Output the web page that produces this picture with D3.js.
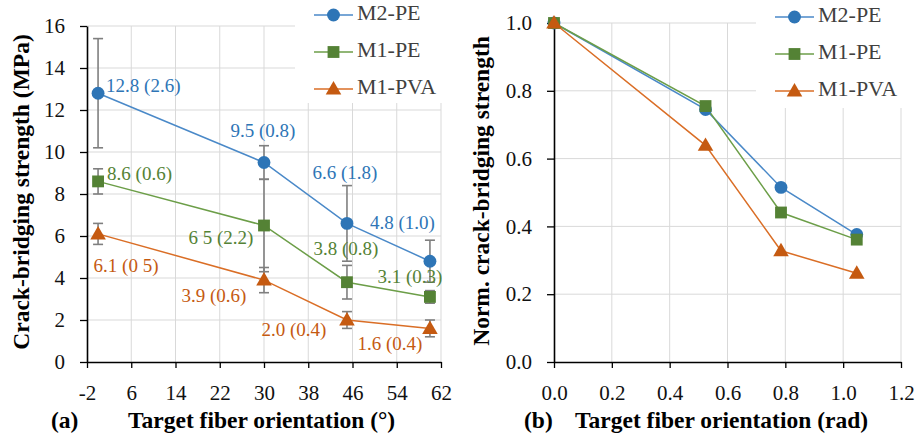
<!DOCTYPE html>
<html>
<head>
<meta charset="utf-8">
<script src="https://cdn.jsdelivr.net/npm/d3@7"></script>
<style>
  html, body { margin: 0; padding: 0; background: #fff; }
  svg { display: block; }
  svg text { font-family: "Liberation Serif", Tinos, "Times New Roman", serif; }
</style>
</head>
<body>
<svg id="chart" width="915" height="442"></svg>
<script>
// Fiber orientation targets
const anglesDeg = [0, 30, 45, 60];
const anglesRad = [0, 0.524, 0.785, 1.047];

// Series names
const seriesNames = ["M2-PE", "M1-PE", "M1-PVA"];

// Crack-bridging strength (MPa) and standard deviation
const m2peMean = [12.8, 9.5, 6.6, 4.8];
const m2peSd = [2.6, 0.8, 1.8, 1.0];
const m1peMean = [8.6, 6.5, 3.8, 3.1];
const m1peSd = [0.6, 2.2, 0.8, 0.3];
const m1pvaMean = [6.1, 3.9, 2.0, 1.6];
const m1pvaSd = [0.5, 0.6, 0.4, 0.4];

// Value labels printed next to each point
const m2peLabels = ["12.8 (2.6)", "9.5 (0.8)", "6.6 (1.8)", "4.8 (1.0)"];
const m1peLabels = ["8.6 (0.6)", "6 5 (2.2)", "3.8 (0.8)", "3.1 (0.3)"];
const m1pvaLabels = ["6.1 (0 5)", "3.9 (0.6)", "2.0 (0.4)", "1.6 (0.4)"];

// Normalized crack-bridging strength
const m2peNorm = [1.0, 0.745, 0.515, 0.376];
const m1peNorm = [1.0, 0.755, 0.441, 0.361];
const m1pvaNorm = [1.0, 0.639, 0.328, 0.262];

// Axis ticks
const leftXTicks = [-2, 6, 14, 22, 30, 38, 46, 54, 62];
const leftYTicks = [0, 2, 4, 6, 8, 10, 12, 14, 16];
const rightXTicks = [0, 0.2, 0.4, 0.6, 0.8, 1.0, 1.2];
const rightYTicks = [0, 0.2, 0.4, 0.6, 0.8, 1.0];

const FONT = "'Liberation Serif', Tinos, 'Times New Roman', serif";
const markerColors = ["#2E75B6", "#548235", "#C55A11"];
const lineColors = ["#4A89C8", "#6C9E48", "#DA6E26"];
const markerShapes = [d3.symbolCircle, d3.symbolSquare, d3.symbolTriangle];
const markerSizes = [130, 140, 105];

// label placement: [dx, dy, anchor] relative to the point
const labelPlace = [
  [[8, -6, "start"], [-1, -30, "middle"], [-2, -49, "middle"], [-60, -37, "start"]],
  [[9, -6, "start"], [-43, 14, "middle"], [-1, -32, "middle"], [-20, -18, "middle"]],
  [[28, 34, "middle"], [-50, 18, "middle"], [-53, 12, "middle"], [-40, 17, "middle"]]
];

const svg = d3.select("#chart").attr("font-family", FONT);
const gridColor = "#d9d9d9";

function drawPanel(cfg) {
  const g = svg.append("g").attr("font-family", FONT);
  const x = d3.scaleLinear().domain(cfg.xDomain).range(cfg.xRange);
  const y = d3.scaleLinear().domain(cfg.yDomain).range(cfg.yRange);

  // gridlines
  g.append("g").selectAll("line").data(cfg.xTicks.slice(1)).join("line")
    .attr("x1", d => x(d)).attr("x2", d => x(d))
    .attr("y1", y.range()[0]).attr("y2", y.range()[1])
    .attr("stroke", gridColor).attr("stroke-width", 1);
  g.append("g").selectAll("line").data(cfg.yTicks.slice(1)).join("line")
    .attr("x1", x.range()[0]).attr("x2", x.range()[1])
    .attr("y1", d => y(d)).attr("y2", d => y(d))
    .attr("stroke", gridColor).attr("stroke-width", 1);

  // axes
  const xAxis = d3.axisBottom(x).tickValues(cfg.xTicks).tickFormat(cfg.xFormat)
    .tickSizeInner(6).tickSizeOuter(0).tickPadding(17);
  const yAxis = d3.axisLeft(y).tickValues(cfg.yTicks).tickFormat(cfg.yFormat)
    .tickSizeInner(7).tickSizeOuter(0).tickPadding(15);
  const gx = g.append("g").attr("transform", `translate(0,${y.range()[0]})`).call(xAxis);
  const gy = g.append("g").attr("transform", `translate(${x.range()[0]},0)`).call(yAxis);
  [gx, gy].forEach(a => {
    a.attr("font-family", FONT).attr("font-size", 21);
    a.select(".domain").attr("stroke", "#000").attr("stroke-width", 1.6);
    a.selectAll(".tick line").attr("stroke", "#000").attr("stroke-width", 1.3);
    a.selectAll(".tick text").attr("fill", "#111").attr("font-family", FONT);
  });

  // series lines
  cfg.series.forEach((vals, i) => {
    const line = d3.line().x((d, j) => x(cfg.xs[j])).y(d => y(d));
    g.append("path").datum(vals).attr("d", line)
      .attr("fill", "none").attr("stroke", lineColors[i]).attr("stroke-width", 1.5);
  });

  // error bars
  if (cfg.errors) {
    cfg.series.forEach((vals, i) => {
      const eg = g.append("g").attr("stroke", "#7f7f7f").attr("stroke-width", 1.6);
      vals.forEach((v, j) => {
        const e = cfg.errors[i][j];
        const cx = x(cfg.xs[j]);
        eg.append("line").attr("x1", cx).attr("x2", cx).attr("y1", y(v - e)).attr("y2", y(v + e));
        [v - e, v + e].forEach(t => {
          eg.append("line").attr("x1", cx - 5).attr("x2", cx + 5).attr("y1", y(t)).attr("y2", y(t));
        });
      });
    });
  }

  // markers
  cfg.series.forEach((vals, i) => {
    const sym = d3.symbol().type(markerShapes[i]).size(markerSizes[i]);
    g.append("g").selectAll("path").data(vals).join("path")
      .attr("d", sym)
      .attr("transform", (d, j) => `translate(${x(cfg.xs[j])},${y(d) + (i === 2 ? 1 : 0)})`)
      .attr("fill", markerColors[i]);
  });

  // value labels
  if (cfg.labels) {
    cfg.series.forEach((vals, i) => {
      vals.forEach((v, j) => {
        const p = labelPlace[i][j];
        g.append("text").attr("x", x(cfg.xs[j]) + p[0]).attr("y", y(v) + p[1])
          .attr("text-anchor", p[2]).attr("dominant-baseline", "middle")
          .attr("font-family", FONT).attr("font-size", 19)
          .attr("fill", markerColors[i])
          .text(cfg.labels[i][j]);
      });
    });
  }

  // legend
  const lg = g.append("g");
  lg.append("rect").attr("x", cfg.legend.x - 4).attr("y", 0).attr("width", cfg.legend.w).attr("height", cfg.legend.h)
    .attr("fill", "#fff");
  seriesNames.forEach((name, i) => {
    const ly = cfg.legend.ys[i];
    const lx = cfg.legend.x + 15;
    lg.append("line").attr("x1", lx).attr("x2", lx + 39).attr("y1", ly).attr("y2", ly)
      .attr("stroke", lineColors[i]).attr("stroke-width", 1.5);
    lg.append("path").attr("d", d3.symbol().type(markerShapes[i]).size(markerSizes[i])())
      .attr("transform", `translate(${lx + 19.5},${ly + (i === 2 ? 1 : 0)})`).attr("fill", markerColors[i]);
    lg.append("text").attr("x", lx + 43).attr("y", ly).attr("dominant-baseline", "middle")
      .attr("font-family", FONT).attr("font-size", 22)
      .attr("fill", "#404040").text(name);
  });

  // axis titles
  g.append("text")
    .attr("transform", `translate(${cfg.yTitleX},${cfg.yTitleY}) rotate(-90)`)
    .attr("text-anchor", "middle").attr("dominant-baseline", "middle")
    .attr("font-family", FONT).attr("font-weight", "bold").attr("font-size", 23.5)
    .attr("fill", "#000").text(cfg.yTitle);
  g.append("text").attr("x", cfg.tagX).attr("y", 423).attr("dominant-baseline", "middle")
    .attr("font-family", FONT).attr("font-weight", "bold").attr("font-size", 23.5)
    .attr("fill", "#000").text(cfg.tag);
  g.append("text").attr("x", cfg.xTitleX).attr("y", 423).attr("dominant-baseline", "middle")
    .attr("font-family", FONT).attr("font-weight", "bold").attr("font-size", 23.5)
    .attr("fill", "#000").text(cfg.xTitle);
}

drawPanel({
  xDomain: [-2, 62], xRange: [87, 441],
  yDomain: [0, 16], yRange: [362, 26],
  xTicks: leftXTicks, yTicks: leftYTicks,
  xFormat: d => d < 0 ? "-" + Math.abs(d) : d, yFormat: d => d,
  xs: anglesDeg,
  series: [m2peMean, m1peMean, m1pvaMean],
  errors: [m2peSd, m1peSd, m1pvaSd],
  labels: [m2peLabels, m1peLabels, m1pvaLabels],
  legend: { x: 299, w: 160, h: 103, ys: [15, 52, 89] },
  yTitle: "Crack-bridging strength (MPa)", yTitleX: 24, yTitleY: 192,
  tag: "(a)", tagX: 51,
  xTitle: "Target fiber orientation (°)", xTitleX: 128
});

drawPanel({
  xDomain: [0, 1.2], xRange: [554, 901],
  yDomain: [0, 1], yRange: [362, 23],
  xTicks: rightXTicks, yTicks: rightYTicks,
  xFormat: d3.format(".1f"), yFormat: d3.format(".1f"),
  xs: anglesRad,
  series: [m2peNorm, m1peNorm, m1pvaNorm],
  errors: null, labels: null,
  legend: { x: 760, w: 159, h: 108, ys: [17, 54, 91] },
  yTitle: "Norm. crack-bridging strength", yTitleX: 484, yTitleY: 191,
  tag: "(b)", tagX: 524,
  xTitle: "Target fiber orientation (rad)", xTitleX: 575
});
</script>
</body>
</html>
